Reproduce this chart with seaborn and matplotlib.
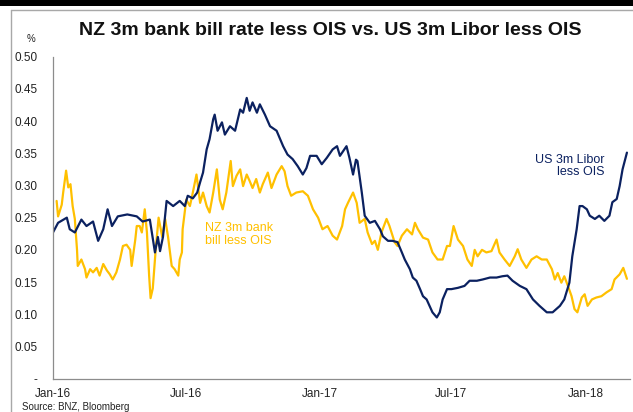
import matplotlib
matplotlib.use("Agg")
import matplotlib.pyplot as plt
from matplotlib.lines import Line2D
from matplotlib.patches import Rectangle
import pandas as pd
import seaborn as sns

# ---------------- data ----------------
us_dates = [
    "2016-01-01", "2016-01-08", "2016-01-20", "2016-01-24", "2016-01-31", "2016-02-09",
    "2016-02-16", "2016-02-25", "2016-03-03", "2016-03-10", "2016-03-16", "2016-03-22",
    "2016-03-30", "2016-04-12", "2016-04-25", "2016-05-03", "2016-05-13", "2016-05-20",
    "2016-05-24", "2016-05-27", "2016-05-31", "2016-06-05", "2016-06-14", "2016-06-23",
    "2016-06-30", "2016-07-04", "2016-07-11", "2016-07-17", "2016-07-21", "2016-07-25",
    "2016-07-30", "2016-08-03", "2016-08-08", "2016-08-10", "2016-08-14", "2016-08-20",
    "2016-08-24", "2016-08-31", "2016-09-07", "2016-09-14", "2016-09-18", "2016-09-23",
    "2016-09-27", "2016-10-01", "2016-10-07", "2016-10-11", "2016-10-18", "2016-10-25",
    "2016-11-03", "2016-11-12", "2016-11-18", "2016-11-25", "2016-12-02", "2016-12-09",
    "2016-12-14", "2016-12-19", "2016-12-28", "2017-01-04", "2017-01-11", "2017-01-19",
    "2017-01-25", "2017-01-29", "2017-02-07", "2017-02-11", "2017-02-16", "2017-02-20",
    "2017-02-22", "2017-02-28", "2017-03-04", "2017-03-11", "2017-03-18", "2017-03-25",
    "2017-03-29", "2017-04-05", "2017-04-11", "2017-04-18", "2017-04-24", "2017-04-28",
    "2017-05-05", "2017-05-09", "2017-05-14", "2017-05-19", "2017-05-23", "2017-05-28",
    "2017-06-01", "2017-06-05", "2017-06-11", "2017-06-15", "2017-06-19", "2017-06-25",
    "2017-07-01", "2017-07-10", "2017-07-19", "2017-07-26", "2017-08-05", "2017-08-13",
    "2017-08-23", "2017-09-01", "2017-09-09", "2017-09-16", "2017-09-23", "2017-10-03",
    "2017-10-12", "2017-10-21", "2017-10-30", "2017-11-09", "2017-11-17", "2017-11-27",
    "2017-12-03", "2017-12-10", "2017-12-14", "2017-12-20", "2017-12-24", "2017-12-28",
    "2018-01-03", "2018-01-07", "2018-01-14", "2018-01-20", "2018-01-27", "2018-02-03",
    "2018-02-07", "2018-02-13", "2018-02-17", "2018-02-21", "2018-02-27",
]
us_values = [
    0.227, 0.242, 0.250, 0.232, 0.227, 0.247,
    0.237, 0.244, 0.214, 0.232, 0.263, 0.237,
    0.252, 0.255, 0.252, 0.244, 0.247, 0.196,
    0.220, 0.198, 0.220, 0.276, 0.268, 0.276,
    0.268, 0.284, 0.280, 0.289, 0.305, 0.320,
    0.356, 0.372, 0.403, 0.410, 0.385, 0.398,
    0.379, 0.392, 0.385, 0.418, 0.413, 0.436,
    0.416, 0.429, 0.413, 0.426, 0.410, 0.392,
    0.385, 0.361, 0.348, 0.341, 0.330, 0.317,
    0.327, 0.346, 0.346, 0.333, 0.343, 0.356,
    0.361, 0.346, 0.361, 0.343, 0.317, 0.340,
    0.338, 0.289, 0.253, 0.242, 0.245, 0.232,
    0.221, 0.214, 0.214, 0.212, 0.196, 0.185,
    0.170, 0.157, 0.152, 0.139, 0.128, 0.123,
    0.113, 0.103, 0.095, 0.103, 0.123, 0.139,
    0.139, 0.141, 0.144, 0.152, 0.152, 0.154,
    0.157, 0.157, 0.159, 0.160, 0.152, 0.144,
    0.139, 0.123, 0.113, 0.103, 0.103, 0.113,
    0.123, 0.149, 0.190, 0.232, 0.268, 0.268,
    0.263, 0.253, 0.248, 0.253, 0.245, 0.253,
    0.274, 0.279, 0.299, 0.325, 0.351,
]

nz_dates = [
    "2016-01-06", "2016-01-08", "2016-01-13", "2016-01-15", "2016-01-19", "2016-01-22",
    "2016-01-25", "2016-01-28", "2016-01-31", "2016-02-03", "2016-02-04", "2016-02-09",
    "2016-02-14", "2016-02-16", "2016-02-21", "2016-02-25", "2016-03-01", "2016-03-05",
    "2016-03-10", "2016-03-15", "2016-03-19", "2016-03-23", "2016-03-28", "2016-04-02",
    "2016-04-06", "2016-04-11", "2016-04-16", "2016-04-18", "2016-04-23", "2016-04-25",
    "2016-04-29", "2016-05-02", "2016-05-06", "2016-05-09", "2016-05-12", "2016-05-14",
    "2016-05-17", "2016-05-21", "2016-05-25", "2016-05-30", "2016-06-03", "2016-06-07",
    "2016-06-12", "2016-06-16", "2016-06-21", "2016-06-23", "2016-06-26", "2016-06-27",
    "2016-07-02", "2016-07-07", "2016-07-11", "2016-07-16", "2016-07-21", "2016-07-25",
    "2016-07-30", "2016-08-03", "2016-08-08", "2016-08-13", "2016-08-17", "2016-08-21",
    "2016-08-26", "2016-09-01", "2016-09-04", "2016-09-09", "2016-09-14", "2016-09-18",
    "2016-09-23", "2016-09-27", "2016-10-01", "2016-10-06", "2016-10-11", "2016-10-15",
    "2016-10-22", "2016-10-27", "2016-11-03", "2016-11-10", "2016-11-14", "2016-11-18",
    "2016-11-23", "2016-11-30", "2016-12-09", "2016-12-16", "2016-12-23", "2016-12-30",
    "2017-01-05", "2017-01-12", "2017-01-19", "2017-01-25", "2017-02-01", "2017-02-05",
    "2017-02-09", "2017-02-16", "2017-02-21", "2017-02-25", "2017-03-04", "2017-03-08",
    "2017-03-14", "2017-03-18", "2017-03-22", "2017-03-27", "2017-04-03", "2017-04-07",
    "2017-04-14", "2017-04-18", "2017-04-24", "2017-05-01", "2017-05-08", "2017-05-12",
    "2017-05-16", "2017-05-23", "2017-05-30", "2017-06-05", "2017-06-12", "2017-06-19",
    "2017-06-25", "2017-06-29", "2017-07-04", "2017-07-10", "2017-07-17", "2017-07-23",
    "2017-07-29", "2017-08-02", "2017-08-06", "2017-08-12", "2017-08-18", "2017-08-25",
    "2017-09-01", "2017-09-05", "2017-09-12", "2017-09-19", "2017-09-26", "2017-09-30",
    "2017-10-05", "2017-10-12", "2017-10-19", "2017-10-26", "2017-11-02", "2017-11-09",
    "2017-11-16", "2017-11-20", "2017-11-24", "2017-11-29", "2017-12-03", "2017-12-08",
    "2017-12-13", "2017-12-17", "2017-12-21", "2017-12-27", "2017-12-31", "2018-01-04",
    "2018-01-10", "2018-01-16", "2018-01-23", "2018-01-30", "2018-02-06", "2018-02-10",
    "2018-02-17", "2018-02-22", "2018-02-27",
]
nz_values = [
    0.276, 0.252, 0.270, 0.289, 0.323, 0.297,
    0.302, 0.268, 0.248, 0.200, 0.175, 0.185,
    0.170, 0.157, 0.170, 0.165, 0.172, 0.160,
    0.178, 0.168, 0.162, 0.154, 0.165, 0.185,
    0.206, 0.208, 0.200, 0.175, 0.216, 0.237,
    0.237, 0.227, 0.263, 0.227, 0.160, 0.125,
    0.140, 0.200, 0.250, 0.220, 0.248, 0.220,
    0.175, 0.170, 0.160, 0.185, 0.196, 0.232,
    0.278, 0.268, 0.289, 0.317, 0.273, 0.289,
    0.268, 0.258, 0.289, 0.325, 0.278, 0.263,
    0.289, 0.338, 0.299, 0.315, 0.325, 0.299,
    0.317, 0.307, 0.296, 0.310, 0.289, 0.302,
    0.320, 0.296, 0.317, 0.330, 0.322, 0.299,
    0.284, 0.289, 0.291, 0.284, 0.263, 0.250,
    0.232, 0.237, 0.222, 0.216, 0.237, 0.263,
    0.273, 0.289, 0.273, 0.242, 0.248, 0.227,
    0.209, 0.214, 0.200, 0.227, 0.248, 0.237,
    0.212, 0.206, 0.222, 0.232, 0.224, 0.242,
    0.232, 0.219, 0.216, 0.196, 0.185, 0.185,
    0.206, 0.206, 0.237, 0.216, 0.206, 0.185,
    0.175, 0.200, 0.190, 0.200, 0.196, 0.198,
    0.216, 0.196, 0.185, 0.175, 0.190, 0.201,
    0.185, 0.172, 0.185, 0.190, 0.185, 0.185,
    0.170, 0.154, 0.164, 0.149, 0.159, 0.144,
    0.128, 0.108, 0.103, 0.126, 0.131, 0.113,
    0.123, 0.126, 0.128, 0.134, 0.139, 0.154,
    0.162, 0.172, 0.155,
]

tick_dates = ["2016-01-01", "2016-07-01", "2017-01-01", "2017-07-01", "2018-01-01"]
tick_labels = ["Jan-16", "Jul-16", "Jan-17", "Jul-17", "Jan-18"]
y_ticks = [0.0, 0.05, 0.10, 0.15, 0.20, 0.25, 0.30, 0.35, 0.40, 0.45, 0.50]
y_labels = ["-", "0.05", "0.10", "0.15", "0.20", "0.25", "0.30", "0.35", "0.40", "0.45", "0.50"]

title = "NZ 3m bank bill rate less OIS vs. US 3m Libor less OIS"
us_label = "US 3m Libor\nless OIS"
nz_label = "NZ 3m bank\nbill less OIS"
source = "Source: BNZ, Bloomberg"

# ---------------- style ----------------
sns.set_style("white")
plt.rcParams["font.family"] = ["Liberation Sans", "DejaVu Sans"]

NAVY = "#0B2160"
GOLD = "#FFC000"
GREY = "#8C8C8C"

us_df = pd.DataFrame({"date": pd.to_datetime(us_dates), "value": us_values})
nz_df = pd.DataFrame({"date": pd.to_datetime(nz_dates), "value": nz_values})

fig = plt.figure(figsize=(6.33, 4.12), dpi=100)
ax = fig.add_axes([0.0837, 0.0810, 0.9113, 0.7814])

sns.lineplot(data=nz_df, x="date", y="value", ax=ax, color=GOLD, linewidth=1.6)
sns.lineplot(data=us_df, x="date", y="value", ax=ax, color=NAVY, linewidth=1.6)

ax.set_xlim(pd.Timestamp("2016-01-01"), pd.Timestamp("2018-03-03"))
ax.set_ylim(0, 0.5)
ax.set_xticks(pd.to_datetime(tick_dates))
ax.set_xticklabels(tick_labels)
ax.set_yticks(y_ticks)
ax.set_yticklabels(y_labels)
ax.set_xlabel("")
ax.set_ylabel("")

for s in ["top", "right"]:
    ax.spines[s].set_visible(False)
for s in ["left", "bottom"]:
    ax.spines[s].set_color(GREY)
    ax.spines[s].set_linewidth(0.9)

ax.tick_params(axis="both", which="major", labelsize=8.5, colors=GREY,
               labelcolor="#222222", length=3, width=0.8, direction="out")
ax.tick_params(axis="y", pad=8)
ax.tick_params(axis="x", pad=4)
ax.grid(False)

# annotations
ax.text(pd.Timestamp("2018-01-27"), 0.330, us_label, color=NAVY, fontsize=9,
        ha="right", va="center", linespacing=1.05)
ax.text(pd.Timestamp("2016-09-12"), 0.224, nz_label, color=GOLD, fontsize=9,
        ha="center", va="center", linespacing=1.05)

# figure decorations
fig.text(0.521, 0.927, title, fontsize=14, fontweight="bold", ha="center",
         va="center", color="#111111")
fig.text(0.049, 0.906, "%", fontsize=7, ha="center", va="center", color="#222222")
fig.text(0.034, 0.001, source, fontsize=7, ha="left", va="bottom", color="#222222")

fig.patches.append(Rectangle((0, 1 - 6 / 412), 1, 6 / 412, transform=fig.transFigure,
                             facecolor="black", edgecolor="none", zorder=0))
fig.lines.append(Line2D([11 / 633, 1], [1 - 9.5 / 412, 1 - 9.5 / 412],
                        transform=fig.transFigure, color="#A8A8A8", linewidth=1))
fig.lines.append(Line2D([11 / 633, 11 / 633], [0, 1 - 9.5 / 412],
                        transform=fig.transFigure, color="#A8A8A8", linewidth=1))

fig.savefig("out.png", dpi=100)
